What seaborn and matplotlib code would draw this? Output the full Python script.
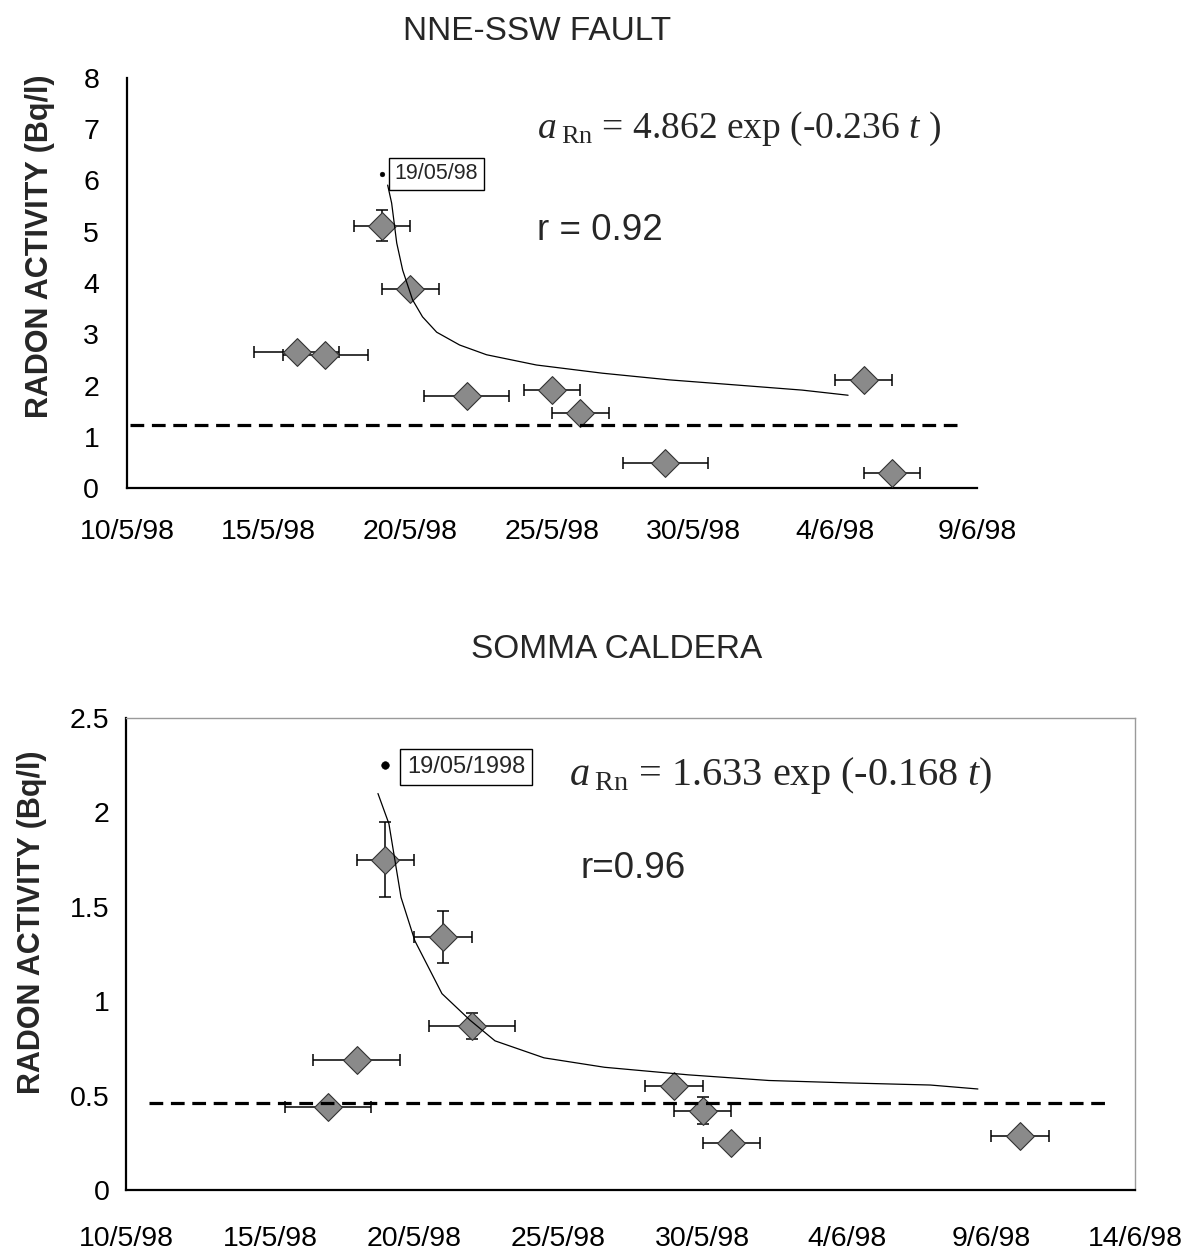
import numpy as np
import pandas as pd
import matplotlib
matplotlib.use("Agg")
import matplotlib.pyplot as plt
import matplotlib.dates as mdates
import seaborn as sns

# ---------------- data: NNE-SSW FAULT ----------------
fault_dates = ["1998-05-16", "1998-05-17", "1998-05-19", "1998-05-20", "1998-05-22",
               "1998-05-25", "1998-05-26", "1998-05-29", "1998-06-05", "1998-06-06"]
fault_rn = [2.66, 2.60, 5.12, 3.88, 1.80, 1.92, 1.47, 0.48, 2.10, 0.29]
fault_xerr_days = [1.5, 1.5, 1.0, 1.0, 1.5, 1.0, 1.0, 1.5, 1.0, 1.0]
fault_yerr = [0, 0, 0.30, 0, 0, 0, 0, 0, 0, 0]
fault_peak_date = ["1998-05-19"]
fault_peak_rn = [6.12]
fault_baseline = 1.22
fault_baseline_days = [0.1, 29.3]          # days after 10/5/98
fault_fit_days = [9.2, 9.34, 9.52, 9.73, 10.08, 10.43, 10.93, 11.74, 12.69, 14.45,
                  16.78, 19.14, 21.5, 23.83, 25.45]
fault_fit_rn = [5.91, 5.56, 4.78, 4.25, 3.67, 3.34, 3.04, 2.79, 2.60, 2.40,
                2.24, 2.11, 2.01, 1.91, 1.81]
fault_xticks = ["1998-05-10", "1998-05-15", "1998-05-20", "1998-05-25", "1998-05-30",
                "1998-06-04", "1998-06-09"]
fault_xticklabels = ["10/5/98", "15/5/98", "20/5/98", "25/5/98", "30/5/98", "4/6/98", "9/6/98"]
fault_yticks = [0, 1, 2, 3, 4, 5, 6, 7, 8]
fault_yticklabels = ["0", "1", "2", "3", "4", "5", "6", "7", "8"]

# ---------------- data: SOMMA CALDERA ----------------
somma_dates = ["1998-05-17", "1998-05-18", "1998-05-19", "1998-05-21", "1998-05-22",
               "1998-05-29", "1998-05-30", "1998-05-31", "1998-06-10"]
somma_rn = [0.44, 0.69, 1.75, 1.34, 0.87, 0.55, 0.42, 0.25, 0.285]
somma_xerr_days = [1.5, 1.5, 1.0, 1.0, 1.5, 1.0, 1.0, 1.0, 1.0]
somma_yerr = [0, 0, 0.20, 0.14, 0.07, 0, 0.07, 0, 0]
somma_peak_date = ["1998-05-19"]
somma_peak_rn = [2.25]
somma_baseline = 0.46
somma_baseline_days = [0.8, 34.0]
somma_fit_days = [8.74, 9.12, 9.54, 10.02, 10.96, 11.93, 12.8, 14.5, 16.6, 19.5,
                  22.3, 25.1, 27.9, 29.55]
somma_fit_rn = [2.10, 1.94, 1.55, 1.32, 1.04, 0.90, 0.79, 0.70, 0.65, 0.61,
                0.58, 0.567, 0.556, 0.535]
somma_xticks = fault_xticks + ["1998-06-14"]
somma_xticklabels = fault_xticklabels + ["14/6/98"]
somma_yticks = [0, 0.5, 1, 1.5, 2, 2.5]
somma_yticklabels = ["0", "0.5", "1", "1.5", "2", "2.5"]

origin = "1998-05-10"

# ---------------- style ----------------
sns.set_style("white")
plt.rcParams['font.family'] = ['Liberation Sans', 'DejaVu Sans']
plt.rcParams['mathtext.fontset'] = 'custom'
plt.rcParams['mathtext.rm'] = 'Liberation Serif'
plt.rcParams['mathtext.it'] = 'Liberation Serif:italic'

W, H = 1189, 1252
fig = plt.figure(figsize=(W / 100, H / 100), dpi=100)
fig.patch.set_facecolor("white")

def dnum(lst):
    return mdates.date2num(pd.to_datetime(lst))

org = dnum([origin])[0]


def draw(ax, dates, rn, xerr, yerr, pdate, prn, base, base_days, fdays, frn,
         xticks, xlabels, yticks, ylabels, ylim, xpad, ypad, msize, dotsize):
    x = dnum(dates)
    ax.errorbar(x, rn, xerr=xerr, yerr=yerr, fmt='none', ecolor='black',
                elinewidth=1.1, capsize=4, capthick=1.1, zorder=2)
    sns.scatterplot(x=x, y=rn, marker='D', s=msize, color='#8a8a8a',
                    edgecolor='#333333', linewidth=0.8, ax=ax, zorder=3, legend=False)
    sns.lineplot(x=org + np.array(fdays), y=frn, color='black', lw=0.9, ax=ax,
                 sort=False, estimator=None, zorder=4)
    ax.plot(org + np.array(base_days), [base, base], color='black', lw=2.3,
            ls=(0, (4.3, 2.4)), zorder=3.5)
    sns.scatterplot(x=dnum(pdate), y=prn, marker='o', s=dotsize, color='black',
                    edgecolor='black', ax=ax, zorder=5, legend=False)
    xt = dnum(xticks)
    ax.set_xlim(xt[0], xt[-1])
    ax.set_ylim(*ylim)
    ax.set_xticks(xt)
    ax.set_xticklabels(xlabels)
    ax.set_yticks(yticks)
    ax.set_yticklabels(ylabels)
    ax.set_xlabel("")
    ax.set_ylabel("")
    ax.tick_params(axis='x', direction='out', length=7, width=1.6, labelsize=20.5,
                   pad=xpad, colors='black')
    ax.tick_params(axis='y', direction='out', length=6, width=1.6, labelsize=20.5,
                   pad=ypad, colors='black')
    for s in ['left', 'bottom']:
        ax.spines[s].set_linewidth(1.6)
        ax.spines[s].set_color('black')


# ---------- top panel ----------
ax1 = fig.add_axes([127 / W, 1 - 488 / H, 850 / W, 410 / H])
draw(ax1, fault_dates, fault_rn, fault_xerr_days, fault_yerr, fault_peak_date,
     fault_peak_rn, fault_baseline, fault_baseline_days, fault_fit_days, fault_fit_rn,
     fault_xticks, fault_xticklabels, fault_yticks, fault_yticklabels, (0, 8),
     xpad=15, ypad=14, msize=200, dotsize=12)
ax1.spines['top'].set_visible(False)
ax1.spines['right'].set_visible(False)

ax1.text(0.315, 0.766, "19/05/98", transform=ax1.transAxes, fontsize=15.5,
         ha='left', va='center',
         bbox=dict(boxstyle='square,pad=0.25', fc='white', ec='black', lw=1.0), zorder=6)
ax1.text(0.482, 0.854, r"$a_{\;\mathrm{Rn}}$ = 4.862 exp (-0.236 $t$ )",
         transform=ax1.transAxes, fontsize=27, family='Liberation Serif',
         ha='left', va='baseline')
ax1.text(0.482, 0.605, "r = 0.92", transform=ax1.transAxes, fontsize=26.5,
         ha='left', va='baseline')

fig.text(537 / W, 1 - 32 / H, "NNE-SSW FAULT", fontsize=24, ha='center', va='center')
fig.text(40 / W, 1 - 246 / H, "RADON ACTIVITY (Bq/l)", fontsize=22, fontweight='bold',
         rotation=90, ha='center', va='center')

# ---------- bottom panel ----------
ax2 = fig.add_axes([126 / W, 1 - 1190 / H, 1009 / W, 472 / H])
draw(ax2, somma_dates, somma_rn, somma_xerr_days, somma_yerr, somma_peak_date,
     somma_peak_rn, somma_baseline, somma_baseline_days, somma_fit_days, somma_fit_rn,
     somma_xticks, somma_xticklabels, somma_yticks, somma_yticklabels, (0, 2.5),
     xpad=19, ypad=6, msize=200, dotsize=30)
for s in ['top', 'right']:
    ax2.spines[s].set_color('#9a9a9a')
    ax2.spines[s].set_linewidth(1.0)

ax2.text(0.2785, 0.896, "19/05/1998", transform=ax2.transAxes, fontsize=17,
         ha='left', va='center',
         bbox=dict(boxstyle='square,pad=0.3', fc='white', ec='black', lw=1.0), zorder=6)
ax2.text(0.439, 0.858, r"$a_{\;\mathrm{Rn}}$ = 1.633 exp (-0.168 $t$)",
         transform=ax2.transAxes, fontsize=29, family='Liberation Serif',
         ha='left', va='baseline')
ax2.text(0.45, 0.661, "r=0.96", transform=ax2.transAxes, fontsize=26.5,
         ha='left', va='baseline')

fig.text(617 / W, 1 - 650 / H, "SOMMA CALDERA", fontsize=24, ha='center', va='center')
fig.text(32 / W, 1 - 922 / H, "RADON ACTIVITY (Bq/l)", fontsize=22, fontweight='bold',
         rotation=90, ha='center', va='center')

fig.savefig("out.png", dpi=100, facecolor='white')
